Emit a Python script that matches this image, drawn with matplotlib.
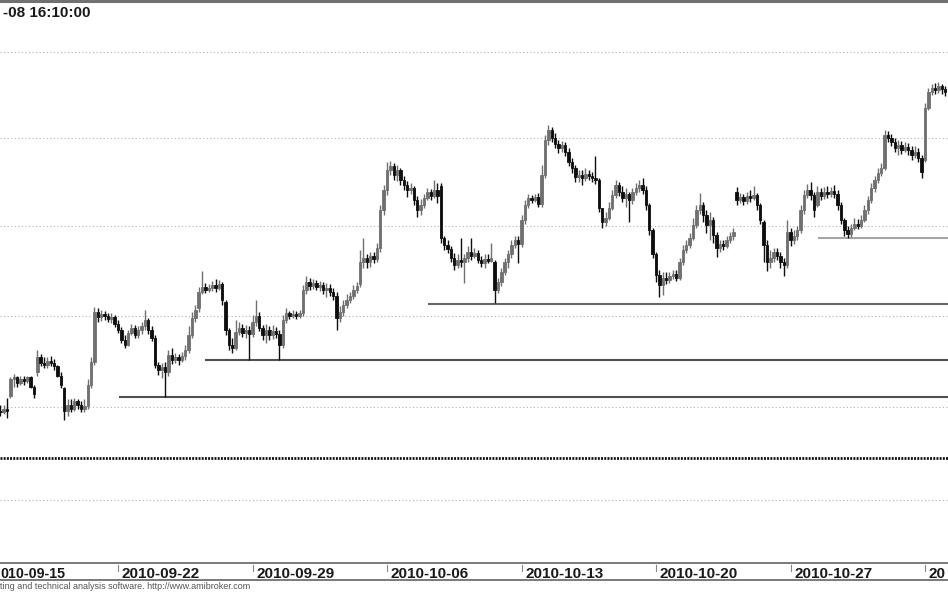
import matplotlib
matplotlib.use("Agg")
import matplotlib.pyplot as plt
import matplotlib.transforms as mtransforms
from matplotlib.lines import Line2D
import numpy as np

# ---------------- data ----------------
first_bar = 5          # index of first visible hourly bar (bar 0 = 2010-09-15 first bar)
bars_per_day = 8

opens = [
    2498, 2497, 2499,
    2506, 2515, 2516, 2513, 2515, 2514, 2516, 2511,
    2519, 2527, 2524, 2523, 2525, 2524, 2522, 2517,
    2510, 2498, 2501, 2499, 2503, 2501, 2499, 2500.5,
    2512, 2524.5, 2552, 2549, 2551, 2550, 2548, 2549,
    2545.5, 2542, 2536.5, 2534, 2540.5, 2543, 2539.5, 2542,
    2544, 2547.5, 2542, 2537.5, 2523, 2520, 2521.5, 2519,
    2528.5, 2525.5, 2527, 2525.5, 2528, 2531, 2539.5, 2548.5,
    2554, 2563, 2566, 2564, 2565.5, 2567, 2565.5, 2567.5,
    2557.5, 2542, 2534, 2532, 2541, 2543, 2540.5, 2542,
    2540, 2546.5, 2550, 2543, 2539.5, 2542, 2539, 2541.5,
    2540, 2534, 2547.5, 2551.5, 2550, 2551, 2550, 2551.5,
    2564, 2568.5, 2566.5, 2568, 2566, 2567, 2564, 2565.5,
    2563, 2561, 2548.5, 2552, 2556, 2558.5, 2561, 2564,
    2567.5, 2580, 2582, 2580, 2583, 2581.5, 2587.5, 2609,
    2620.5, 2632, 2634, 2629, 2631.5, 2626, 2623, 2620.5,
    2621.5, 2614.5, 2609, 2612, 2616, 2619.5, 2617, 2620.5,
    2622.5, 2593.5, 2589.5, 2587, 2582, 2578, 2581, 2580,
    2582, 2585.5, 2583, 2585, 2581, 2579, 2581.5, 2580.5,
    2580, 2564, 2568.5, 2574, 2580, 2584, 2589.5, 2592,
    2590, 2603.5, 2612, 2616, 2614.5, 2616.5, 2612.5, 2629,
    2649, 2654.5, 2650, 2646.5, 2644.5, 2646, 2642, 2636.5,
    2633, 2628, 2629, 2627, 2629.5, 2628.5, 2627, 2626,
    2610, 2602.5, 2604.5, 2610, 2617.5, 2623, 2619.5, 2616,
    2618, 2614.5, 2619.5, 2621.5, 2623, 2620.5, 2612, 2598,
    2584, 2572.5, 2567, 2571, 2570, 2572, 2573, 2571,
    2580, 2586.5, 2589.5, 2593.5, 2600.5, 2609, 2612, 2606,
    2600.5, 2603.5, 2595, 2587.5, 2590, 2589, 2592, 2594.5,
    2619.5, 2614.5, 2616.5, 2614, 2617, 2616, 2617.5, 2612,
    2602.5, 2589.5, 2580, 2582, 2585.5, 2583, 2580, 2578,
    2596.5, 2592, 2594.5, 2597.5, 2609, 2617.5, 2620.5, 2617.5,
    2612, 2619.5, 2617, 2619.5, 2618, 2620, 2618, 2612,
    2603.5, 2597.5, 2595.5, 2599, 2601, 2600, 2603.5, 2609,
    2614.5, 2621.5, 2626, 2630, 2633, 2652, 2650, 2648,
    2644.5, 2646, 2643, 2645, 2643, 2640.5, 2642, 2638.5,
    2637.5, 2667.5, 2676.5, 2679, 2678, 2680, 2678.5,
]
highs = [
    2501, 2501, 2505,
    2516, 2518, 2517, 2517, 2517, 2517, 2517, 2512,
    2531, 2529, 2527, 2527, 2528, 2526, 2523, 2519,
    2511, 2504, 2504, 2505, 2504, 2503, 2504, 2515,
    2527, 2555, 2554, 2553, 2552.5, 2551.5, 2551.5, 2550.5,
    2547.5, 2543.5, 2539, 2542, 2545.5, 2545, 2544.5, 2546.5,
    2553, 2548.5, 2544.5, 2539, 2524.5, 2524, 2524.5, 2531,
    2532, 2529.5, 2529, 2530, 2534, 2544, 2552, 2556,
    2566, 2574.5, 2568, 2567.5, 2569, 2570.5, 2570, 2568.5,
    2558.5, 2543, 2537.5, 2547.5, 2546.5, 2545.5, 2545, 2544.5,
    2550.5, 2558.5, 2552, 2545, 2545.5, 2544.5, 2545, 2543.5,
    2542, 2550.5, 2554, 2552.5, 2553, 2552.5, 2553, 2567,
    2572, 2571, 2570.5, 2570, 2569, 2568.5, 2568, 2567.5,
    2565.5, 2563, 2555.5, 2558.5, 2562, 2563, 2567, 2568.5,
    2586.5, 2593.5, 2584.5, 2585.5, 2585.5, 2590.5, 2612, 2623,
    2636.5, 2637, 2635.5, 2634.5, 2633, 2628.5, 2625.5, 2624.5,
    2622.5, 2617, 2615, 2618, 2621.5, 2621, 2626, 2624.5,
    2624.5, 2594.5, 2592, 2589, 2585, 2584, 2593.5, 2584.5,
    2588.5, 2593.5, 2587.5, 2586.5, 2583, 2584.5, 2584, 2590.5,
    2581, 2571, 2576.5, 2582, 2586.5, 2592, 2594.5, 2594.5,
    2606, 2614.5, 2618, 2617.5, 2618, 2618.5, 2634.5, 2652,
    2657.5, 2656.5, 2653, 2649, 2648.5, 2648, 2644.5, 2638.5,
    2634.5, 2632, 2631.5, 2633, 2632, 2630.5, 2639.5, 2627,
    2610, 2608, 2613.5, 2620.5, 2626, 2625, 2622.5, 2621.5,
    2619.5, 2621.5, 2624.5, 2626, 2627, 2622.5, 2613, 2599,
    2585.5, 2575.5, 2574, 2574, 2574, 2575.5, 2575.5, 2582,
    2589.5, 2592, 2596, 2604.5, 2612, 2618.5, 2613.5, 2609,
    2608, 2605, 2596.5, 2592, 2592, 2594.5, 2596.5, 2599,
    2622, 2618.5, 2618, 2619.5, 2620.5, 2622.5, 2618.5, 2613,
    2603.5, 2592, 2586.5, 2587.5, 2587.5, 2585.5, 2582, 2603.5,
    2599, 2597.5, 2600, 2612, 2620.5, 2624, 2625, 2619.5,
    2622.5, 2621.5, 2622, 2622.5, 2622, 2623, 2620.5, 2613.5,
    2604.5, 2600, 2601, 2604.5, 2604, 2606, 2612, 2617,
    2624.5, 2628.5, 2633, 2636, 2654.5, 2654, 2652.5, 2650,
    2649, 2648.5, 2648, 2647.5, 2645.5, 2645.5, 2644.5, 2640.5,
    2670.5, 2679, 2681.5, 2682, 2682.5, 2681.5, 2680,
]
lows = [
    2495, 2496, 2494,
    2505, 2511, 2511, 2512, 2512, 2513, 2510, 2505,
    2517, 2522, 2521, 2521, 2522, 2520, 2516, 2510,
    2493, 2495, 2497, 2498, 2499, 2497, 2497, 2499,
    2510, 2523, 2546.5, 2547, 2547.5, 2546.5, 2546, 2543.5,
    2540.5, 2535, 2532, 2533, 2539, 2537.5, 2537.5, 2540,
    2542, 2540, 2536, 2521, 2517.5, 2515.5, 2505.5, 2517,
    2523.5, 2524, 2523, 2524.5, 2525.5, 2529.5, 2537.5, 2546.5,
    2552, 2562, 2562.5, 2563, 2563.5, 2563, 2564, 2556,
    2539.5, 2531, 2529.5, 2531, 2539, 2538, 2537.5, 2525.5,
    2538, 2544.5, 2541.5, 2536.5, 2535, 2536.5, 2537, 2537.5,
    2525.5, 2532, 2546, 2548, 2548.5, 2548, 2548.5, 2550,
    2562, 2564, 2564.5, 2564, 2563.5, 2562, 2560.5, 2561,
    2558.5, 2542, 2546.5, 2550, 2554, 2557, 2559, 2562.5,
    2566, 2576.5, 2576.5, 2577, 2579, 2580, 2585.5, 2606,
    2617.5, 2629, 2626, 2625.5, 2623, 2620.5, 2616.5, 2618,
    2612, 2605, 2606, 2610, 2614.5, 2614.5, 2616, 2613,
    2590.5, 2586.5, 2585, 2580, 2575.5, 2576.5, 2577, 2568,
    2580, 2581, 2582, 2579.5, 2577, 2576.5, 2579, 2580,
    2557, 2562.5, 2566.5, 2572.5, 2576.5, 2582, 2587.5, 2579.5,
    2588, 2601, 2610, 2613, 2613.5, 2610.5, 2611, 2627,
    2646, 2648, 2644.5, 2641.5, 2642, 2639.5, 2634, 2630,
    2625, 2625, 2623, 2625.5, 2626, 2625, 2624, 2608,
    2599, 2600, 2603.5, 2609, 2616, 2617, 2613.5, 2610.5,
    2602.5, 2612.5, 2617.5, 2619.5, 2618, 2609, 2595, 2582,
    2568.5, 2560.5, 2561.5, 2567.5, 2568, 2570.5, 2569, 2570,
    2578, 2585, 2587.5, 2592, 2599, 2607, 2602.5, 2596,
    2592, 2590.5, 2582.5, 2585.5, 2586.5, 2587.5, 2590.5, 2592,
    2612, 2613, 2612, 2612.5, 2613.5, 2614.5, 2609, 2601,
    2580, 2574.5, 2576.5, 2580, 2581, 2576.5, 2572, 2576.5,
    2588.5, 2590, 2592, 2596, 2607, 2616, 2614.5, 2605,
    2610.5, 2614.5, 2615, 2616, 2616.5, 2616, 2609, 2601,
    2594.5, 2593.5, 2594, 2597.5, 2598.5, 2599, 2602.5, 2607,
    2613, 2619.5, 2624.5, 2628.5, 2632, 2648, 2645.5, 2642,
    2640.5, 2641, 2642, 2640.5, 2637.5, 2638.5, 2636.5, 2627,
    2636.5, 2666, 2675, 2675.5, 2676, 2675.5, 2674.5,
]
closes = [
    2497, 2499, 2498,
    2515, 2516, 2513, 2515, 2514, 2516, 2511, 2507,
    2527, 2524, 2523, 2525, 2524, 2522, 2517, 2512,
    2498, 2501, 2499, 2503, 2501, 2499, 2500.5, 2512,
    2524.5, 2552, 2549, 2551, 2550, 2548, 2549, 2545.5,
    2542, 2536.5, 2534, 2540.5, 2543, 2539.5, 2542, 2544,
    2547.5, 2542, 2537.5, 2523, 2520, 2521.5, 2519, 2528.5,
    2525.5, 2527, 2525.5, 2528, 2531, 2539.5, 2548.5, 2553,
    2563, 2566, 2564, 2565.5, 2567, 2565.5, 2567.5, 2558.5,
    2542, 2534, 2532, 2541, 2543, 2540.5, 2542, 2540,
    2546.5, 2550, 2543, 2539.5, 2542, 2539, 2541.5, 2540,
    2534, 2547.5, 2551.5, 2550, 2551, 2550, 2551.5, 2564,
    2568.5, 2566.5, 2568, 2566, 2567, 2564, 2565.5, 2563,
    2561, 2548.5, 2552, 2556, 2558.5, 2561, 2564, 2566.5,
    2580, 2582, 2580, 2583, 2581.5, 2587.5, 2609, 2620.5,
    2632, 2634, 2629, 2631.5, 2626, 2623, 2620.5, 2621.5,
    2614.5, 2609, 2612, 2616, 2619.5, 2617, 2620.5, 2617,
    2593.5, 2589.5, 2587, 2582, 2578, 2581, 2580, 2582,
    2585.5, 2583, 2585, 2581, 2579, 2581.5, 2580.5, 2582,
    2564, 2568.5, 2574, 2580, 2584, 2589.5, 2592, 2590,
    2603.5, 2612, 2616, 2614.5, 2616.5, 2612.5, 2629, 2649,
    2654.5, 2650, 2646.5, 2644.5, 2646, 2642, 2636.5, 2633,
    2628, 2629, 2627, 2629.5, 2628.5, 2627, 2626, 2610,
    2602.5, 2604.5, 2610, 2617.5, 2623, 2619.5, 2616, 2618,
    2614.5, 2619.5, 2621.5, 2623, 2620.5, 2612, 2598, 2584,
    2572.5, 2567, 2571, 2570, 2572, 2573, 2571, 2580,
    2586.5, 2589.5, 2593.5, 2600.5, 2609, 2612, 2606, 2600.5,
    2603.5, 2595, 2587.5, 2590, 2589, 2592, 2594.5, 2596.5,
    2614.5, 2616.5, 2614, 2617, 2616, 2617.5, 2612, 2603.5,
    2589.5, 2580, 2582, 2585.5, 2583, 2580, 2578, 2596.5,
    2592, 2594.5, 2597.5, 2609, 2617.5, 2620.5, 2617.5, 2609,
    2619.5, 2617, 2619.5, 2618, 2620, 2618, 2612, 2603.5,
    2597.5, 2595.5, 2599, 2601, 2600, 2603.5, 2609, 2614.5,
    2621.5, 2626, 2630, 2633, 2652, 2650, 2648, 2644.5,
    2646, 2643, 2645, 2643, 2640.5, 2642, 2638.5, 2630.5,
    2667.5, 2676.5, 2679, 2678, 2680, 2678.5, 2676.5,
]

# date axis (labels as visible in the cropped reference)
tick_days = [0, 5, 10, 15, 20, 25, 30, 35]
tick_labels = ["2010-09-15", "2010-09-22", "2010-09-29", "2010-10-06",
               "2010-10-13", "2010-10-20", "2010-10-27", "2010-11-03"]
first_label_visible = "010-09-15"
last_label_visible = "20"

grid_levels = [2450, 2500, 2550, 2600, 2650, 2700]
support_levels = [2505.5, 2525.5, 2556.2, 2593.1]
support_start_bar = [40.4, 65.9, 132.3, 248.3]
support_colors = ["#505050", "#505050", "#666666", "#a5a5a5"]
dotted_level = 2472.4

title_text = "-08 16:10:00"
footer_text = "ting and technical analysis software. http://www.amibroker.com"

# ---------------- figure ----------------
W, H = 948, 593
fig = plt.figure(figsize=(W / 100, H / 100), dpi=100)
fig.patch.set_facecolor("white")
plt.rcParams["font.family"] = ["Liberation Sans", "DejaVu Sans"]

ax = fig.add_axes([0, (H - 563) / H, 1, 560 / H])
ax.set_yscale("log")
x_lo, x_hi = 4.907, 286.84
ax.set_xlim(x_lo, x_hi)
ax.set_ylim(2416.76, 2728.84)
for s in ax.spines.values():
    s.set_visible(False)
ax.set_xticks([])
ax.set_yticks([])
ax.yaxis.set_minor_locator(matplotlib.ticker.NullLocator())

# grid
for g in grid_levels:
    ax.axhline(g, color="#b0b0b0", lw=0.8, linestyle=(0, (1, 2.2)), zorder=1)
ax.axhline(dotted_level, color="#111111", lw=2.0, linestyle=(0, (0.7, 0.45)), zorder=2)

# support lines
for lvl, st, col in zip(support_levels, support_start_bar, support_colors):
    ax.hlines(lvl, st, x_hi, colors=col, lw=1.5, zorder=2)

# candles
o = np.array(opens, float)
h = np.array(highs, float)
l = np.array(lows, float)
c = np.array(closes, float)
idx = np.arange(first_bar, first_bar + len(c))
up = c > o
cols = np.where(up, "#707070", "#0e0e0e")
ax.vlines(idx, l, h, colors=cols, lw=1.0, zorder=3)
ax.bar(idx, np.abs(c - o), bottom=np.minimum(o, c), width=0.72,
       color=cols, edgecolor=cols, linewidth=0.6, zorder=4)

# top border
fig.add_artist(Line2D([0, 1], [1 - 1 / H, 1 - 1 / H], transform=fig.transFigure,
                      color="#707070", lw=2.2))
# date band
for yp in (563, 580):
    fig.add_artist(Line2D([0, 1], [1 - yp / H, 1 - yp / H], transform=fig.transFigure,
                          color="#7a7a7a", lw=1.4))

trans = mtransforms.blended_transform_factory(ax.transData, fig.transFigure)
px = 1 / 3.3625  # one pixel in bar units
for i, (d, lab) in enumerate(zip(tick_days, tick_labels)):
    xb = d * bars_per_day
    if i == 0:
        ax.text(0.0, 1 - 578.5 / H, first_label_visible, transform=fig.transFigure,
                ha="left", va="baseline", fontsize=10.3, fontweight="bold", color="#1a1a1a")
        continue
    ax.add_line(Line2D([xb, xb], [1 - 565 / H, 1 - 571 / H], transform=trans,
                       color="#888888", lw=0.8, clip_on=False))
    if i == len(tick_days) - 1:
        lab = last_label_visible
    ax.text(xb + 3.5 * px, 1 - 578.5 / H, lab, transform=trans, ha="left",
            va="baseline", fontsize=11, fontweight="bold", color="#1a1a1a",
            clip_on=False)

fig.text(3 / W, 1 - 16.7 / H, title_text, ha="left", va="baseline",
         fontsize=11, fontweight="bold", color="#1a1a1a")
fig.text(0.5 / W, 1 - 589 / H, footer_text, ha="left", va="baseline",
         fontsize=6.5, color="#555555")

fig.savefig("out.png", dpi=100, facecolor="white")
